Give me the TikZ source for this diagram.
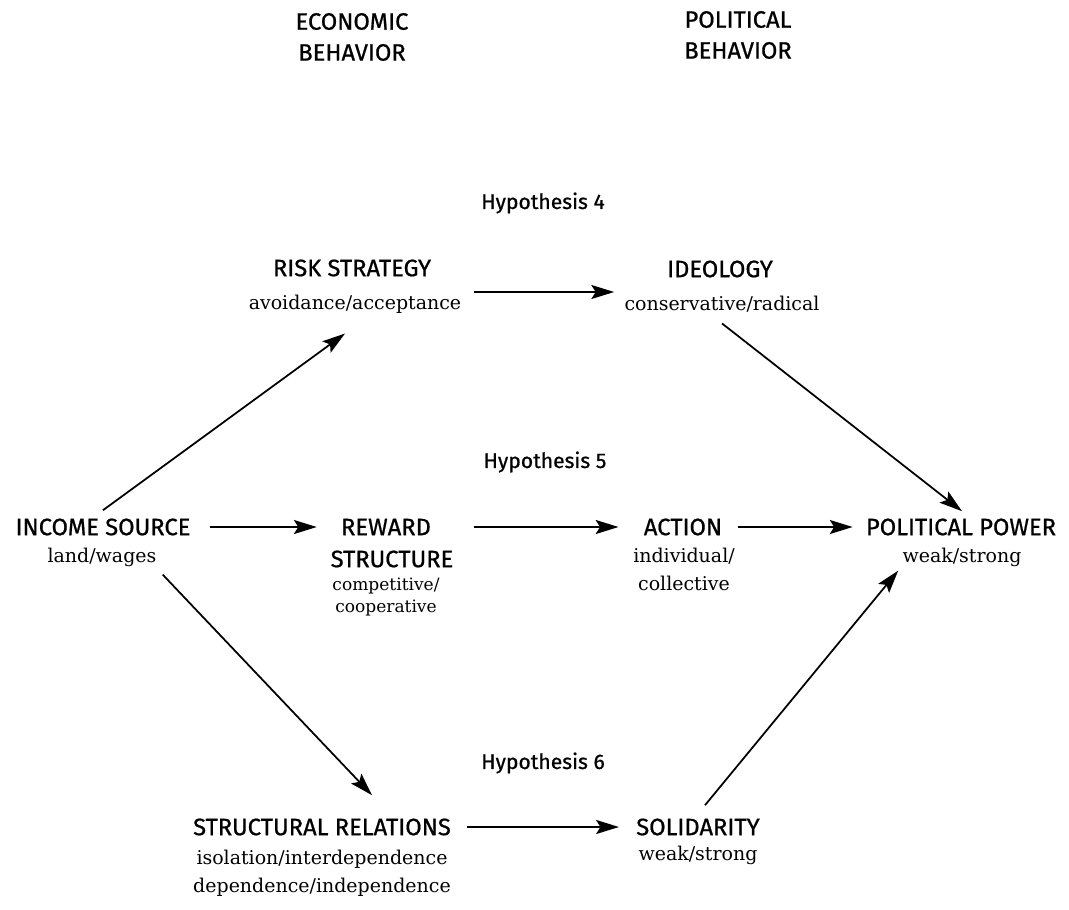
\documentclass[tikz,border=0pt]{standalone}
\usepackage{fontspec}
\setmainfont{DejaVu Serif}
\newfontfamily\handfont[FakeBold=0.8]{Fira Sans}
\usetikzlibrary{arrows.meta}

\begin{document}
\begin{tikzpicture}[x=0.02cm,y=-0.02cm,
  head/.style={inner sep=0pt,align=center,font=\handfont\fontsize{13.5}{17.6}\selectfont},
  sub/.style={inner sep=0pt,align=center,font=\fontsize{10.8}{16}\selectfont},
  smallsub/.style={inner sep=0pt,align=center,font=\fontsize{9.7}{13}\selectfont},
  hyp/.style={inner sep=0pt,font=\handfont\fontsize{12}{14}\selectfont},
  link/.style={-{Stealth[length=13pt,width=8pt,inset=2.5pt]},line width=1pt}]
\useasboundingbox (0,0) rectangle (1069,910);

\node[head] (econ) at (352,37) {ECONOMIC\\BEHAVIOR};
\node[head] (polit) at (738,35) {POLITICAL\\BEHAVIOR};

\node[hyp] (hypfour) at (543,203) {Hypothesis 4};
\node[hyp] (hypfive) at (545,462) {Hypothesis 5};
\node[hyp] (hypsix) at (543,763) {Hypothesis 6};

\node[head] (risk) at (352,268) {RISK STRATEGY};
\node[sub] (risksub) at (355,304) {avoidance/acceptance};
\node[head] (ideo) at (720,269) {IDEOLOGY};
\node[sub] (ideosub) at (722,304) {conservative/radical};

\node[head] (income) at (103,527) {INCOME SOURCE};
\node[sub] (incomesub) at (102,557) {land/wages};
\node[head] (reward) at (386,527) {REWARD};
\node[head] (rewardtwo) at (392,559) {STRUCTURE};
\node[smallsub] (rewardsub) at (386,597) {competitive/\\cooperative};
\node[head] (action) at (683,527) {ACTION};
\node[sub] (actionsub) at (684,569) {individual/\\collective};
\node[head] (power) at (961,527) {POLITICAL POWER};
\node[sub] (powersub) at (962,557) {weak/strong};

\node[head] (struct) at (322,827) {STRUCTURAL RELATIONS};
\node[sub] (structsub) at (322,873) {isolation/interdependence\\dependence/independence};
\node[head] (solid) at (698,827) {SOLIDARITY};
\node[sub] (solidsub) at (698,855) {weak/strong};

\draw[link] ([shift={(19,0)}]income.east) -- ([shift={(-24,0)}]reward.west);
\draw[link] ([shift={(43,0)}]reward.east) -- ([shift={(-25,0)}]action.west);
\draw[link] ([shift={(16,0)}]action.east) -- ([shift={(-13,0)}]power.west);
\draw[link] ([shift={(12,-12)}]risksub.east) -- ([shift={(-10,-12)}]ideosub.west);
\draw[link] ([shift={(16,0)}]struct.east) -- ([shift={(-17,0)}]solid.west);

\draw[link] ([shift={(0,-8)}]income.north) -- ([shift={(-10,20)}]risksub.south);
\draw[link] ([shift={(0,11)}]ideosub.south) -- ([shift={(1,-7)}]power.north);
\draw[link] ([shift={(6,8)}]incomesub.south east) -- ([shift={(50,-23)}]struct.north);
\draw[link] ([shift={(7,-13)}]solid.north) -- ([shift={(-4,4)}]powersub.south west);
\end{tikzpicture}
\end{document}
